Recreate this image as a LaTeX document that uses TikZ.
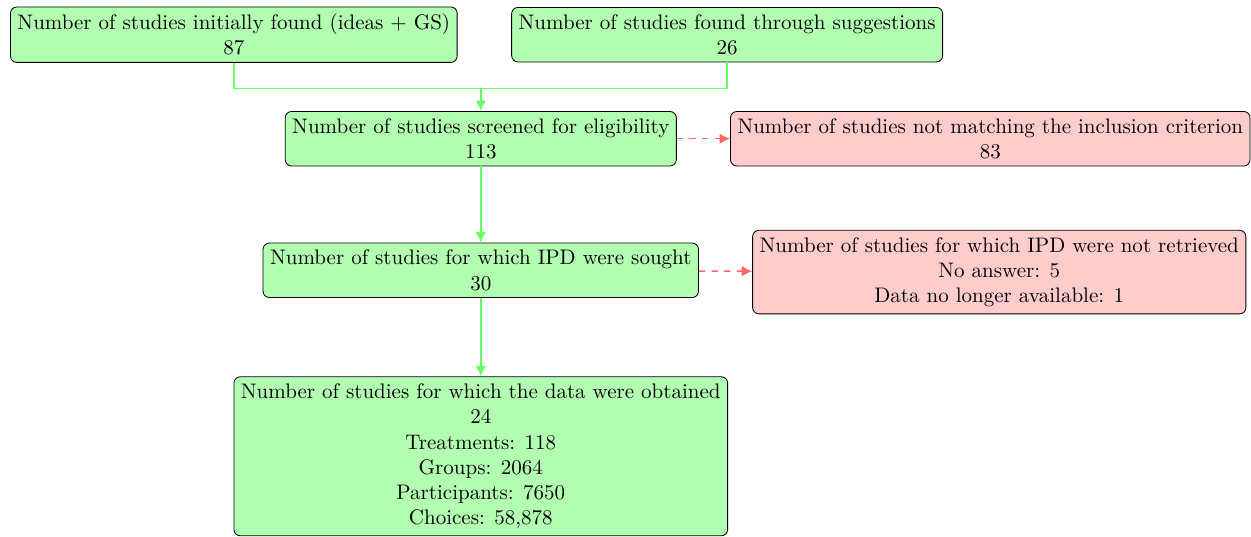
\documentclass[tikz,border=0pt]{standalone}
\usepackage{tikz}
\usetikzlibrary{arrows.meta,positioning}

\begin{document}
\begin{tikzpicture}[
  box/.style={draw,rounded corners=3pt,align=center,inner sep=3.33pt},
  keep/.style={box,fill=green!30},
  drop/.style={box,fill=red!20},
  garr/.style={-{Latex[length=5pt,width=5pt]},line width=0.7pt,green!60},
  gline/.style={line width=0.7pt,green!60},
  rarr/.style={-{Latex[length=5pt,width=5pt]},line width=0.7pt,red!60,dashed}]
  \useasboundingbox (0,0) rectangle (20.92,-8.97);
  \node[keep] (found) at (3.91,-0.58) {Number of studies initially found (ideas + GS)\\ 87};
  \node[keep] (sugg) at (12.16,-0.58) {Number of studies found through suggestions\\ 26};
  \coordinate (merge) at (8.04,-1.48);
  \node[keep] (screen) at (8.04,-2.32) {Number of studies screened for eligibility\\ 113};
  \node[drop] (nomatch) at (16.56,-2.32) {Number of studies not matching the inclusion criterion\\ 83};
  \node[keep] (sought) at (8.04,-4.52) {Number of studies for which IPD were sought\\ 30};
  \node[drop] (notret) at (16.71,-4.55) {Number of studies for which IPD were not retrieved\\ No answer: 5\\ Data no longer available: 1};
  \node[keep] (obtained) at (8.04,-7.63) {Number of studies for which the data were obtained\\ 24\\ Treatments: 118\\ Groups: 2064\\ Participants: 7650\\ Choices: 58,878};
  \draw[gline] (found.south) |- (merge); \draw[gline] (sugg.south) |- (merge);
  \draw[garr] (merge) -- (screen);
  \draw[rarr] (screen) -- (nomatch);
  \draw[garr] (screen) -- (sought);
  \draw[rarr] (sought) -- (notret);
  \draw[garr] (sought) -- (obtained);
\end{tikzpicture}
\end{document}
